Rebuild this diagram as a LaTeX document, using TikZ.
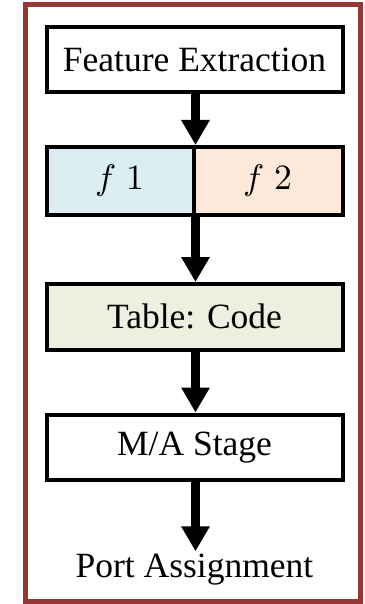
\documentclass[tikz,border=0pt]{standalone}
\usepackage{unicode-math}
\setmainfont{Liberation Serif}
\setmathfont{Latin Modern Math}
\usetikzlibrary{arrows.meta}
\definecolor{framered}{HTML}{953735}
\definecolor{fonefill}{HTML}{DBEEF4}
\definecolor{ftwofill}{HTML}{FDE9D9}
\definecolor{tablefill}{HTML}{EBF1DE}
\begin{document}
\begin{tikzpicture}[x=1pt,y=1pt,
  stagebox/.style={draw=black, line width=4pt, rectangle, inner sep=0pt,
    font=\fontsize{35.5}{42}\selectfont},
  flowarrow/.style={line width=9pt, -{Triangle[width=27pt,length=25pt]}},
  label/.style={inner sep=2pt, font=\fontsize{35.5}{42}\selectfont}]
  \useasboundingbox (0,0) rectangle (364,-604);
  % outer frame
  \draw[framered, line width=5pt] (25.5,-4.5) rectangle (360.5,-601.5);
  % stages
  \node[stagebox, minimum width=296pt, minimum height=65pt] (fe) at (194.5,-59.5) {Feature Extraction};
  \node[stagebox, fill=fonefill, minimum width=147pt, minimum height=67.5pt] (f1) at (120,-180.75) {$f\;1$};
  \node[stagebox, fill=ftwofill, minimum width=149pt, minimum height=67.5pt] (f2) at (268,-180.75) {$f\;2$};
  \node[stagebox, fill=tablefill, minimum width=296pt, minimum height=65.5pt] (tab) at (194.5,-316.75) {Table: Code};
  \node[stagebox, minimum width=296pt, minimum height=65.5pt] (ma) at (194.5,-447.25) {M/A Stage};
  \node[label, anchor=base] (port) at (194.5,-577) {Port Assignment};
  % connectors
  \draw[flowarrow] (fe.south -| f1.east) -- (f1.north east);
  \draw[flowarrow] (f1.south east) -- (tab.north -| f1.east);
  \draw[flowarrow] (tab.south -| f1.east) -- (ma.north -| f1.east);
  \draw[flowarrow] (ma.south -| f1.east) -- (port.north -| f1.east);
\end{tikzpicture}
\end{document}
